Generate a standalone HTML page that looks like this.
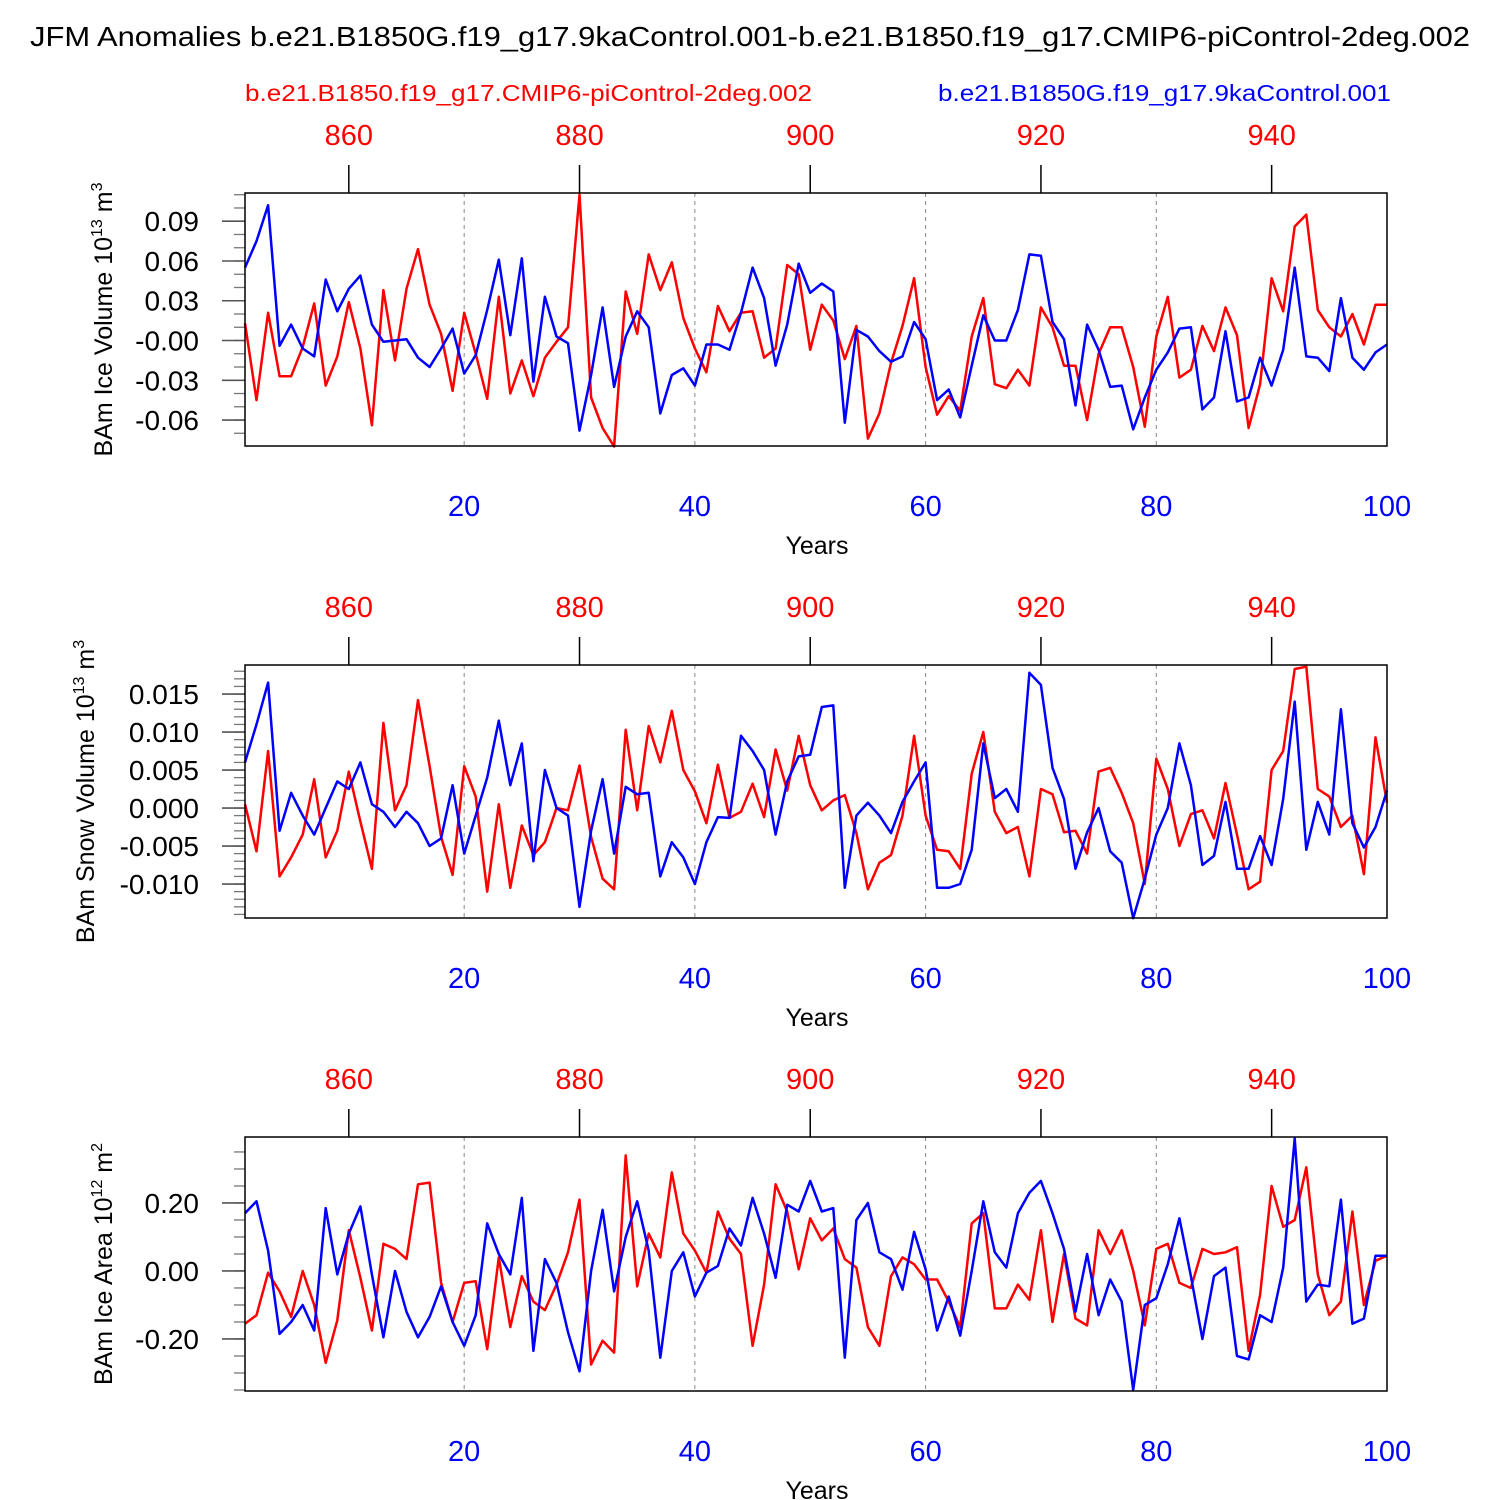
<!DOCTYPE html>
<html><head><meta charset="utf-8"><style>
html,body{margin:0;padding:0;background:#fff;}
svg{display:block;font-family:"Liberation Sans",sans-serif;}
</style></head><body>
<svg id="chart" width="1500" height="1500" viewBox="0 0 1500 1500" xmlns="http://www.w3.org/2000/svg">
<text x="750" y="46" font-size="28" text-anchor="middle" textLength="1440" lengthAdjust="spacingAndGlyphs">JFM Anomalies b.e21.B1850G.f19_g17.9kaControl.001-b.e21.B1850.f19_g17.CMIP6-piControl-2deg.002</text>
<text x="245" y="101" font-size="23" fill="#ff0000" textLength="567" lengthAdjust="spacingAndGlyphs">b.e21.B1850.f19_g17.CMIP6-piControl-2deg.002</text>
<text x="938" y="101" font-size="23" fill="#0000ff" textLength="453" lengthAdjust="spacingAndGlyphs">b.e21.B1850G.f19_g17.9kaControl.001</text>
</svg>
<script>
const volBlue=[0.055,0.075,0.102,-0.004,0.012,-0.006,-0.012,0.046,0.022,0.039,0.049,0.012,-0.001,0.000,0.001,-0.013,-0.020,-0.006,0.009,-0.025,-0.011,0.023,0.061,0.004,0.062,-0.031,0.033,0.003,-0.002,-0.068,-0.026,0.025,-0.035,0.003,0.022,0.010,-0.055,-0.026,-0.021,-0.034,-0.003,-0.003,-0.007,0.021,0.055,0.032,-0.019,0.012,0.058,0.036,0.043,0.037,-0.062,0.008,0.003,-0.008,-0.016,-0.012,0.014,0.001,-0.045,-0.037,-0.058,-0.019,0.019,0.000,0.000,0.023,0.065,0.064,0.014,0.001,-0.049,0.012,-0.007,-0.035,-0.034,-0.067,-0.043,-0.022,-0.009,0.009,0.010,-0.052,-0.043,0.007,-0.046,-0.043,-0.013,-0.034,-0.007,0.055,-0.012,-0.013,-0.023,0.032,-0.013,-0.022,-0.009,-0.003];
const volRed=[0.013,-0.045,0.021,-0.027,-0.027,-0.005,0.028,-0.034,-0.012,0.029,-0.006,-0.064,0.038,-0.015,0.039,0.069,0.027,0.005,-0.038,0.021,-0.010,-0.044,0.033,-0.040,-0.015,-0.042,-0.013,-0.001,0.010,0.110,-0.043,-0.066,-0.080,0.037,0.005,0.065,0.038,0.059,0.017,-0.006,-0.024,0.026,0.007,0.021,0.022,-0.013,-0.006,0.057,0.050,-0.007,0.027,0.015,-0.014,0.011,-0.074,-0.055,-0.017,0.011,0.047,-0.020,-0.056,-0.042,-0.053,0.003,0.032,-0.033,-0.036,-0.022,-0.034,0.025,0.010,-0.019,-0.019,-0.060,-0.010,0.010,0.010,-0.020,-0.065,0.003,0.033,-0.028,-0.022,0.011,-0.008,0.025,0.004,-0.066,-0.033,0.047,0.022,0.086,0.095,0.023,0.010,0.003,0.020,-0.003,0.027,0.027];
const snowBlue=[0.006,0.011,0.0165,-0.003,0.002,-0.001,-0.0035,0.000,0.0035,0.0025,0.006,0.0005,-0.0005,-0.0025,-0.0005,-0.002,-0.005,-0.004,0.003,-0.006,-0.001,0.004,0.0115,0.003,0.0085,-0.007,0.005,0.000,-0.001,-0.013,-0.003,0.0038,-0.006,0.0028,0.0018,0.002,-0.009,-0.0045,-0.0065,-0.010,-0.0045,-0.0012,-0.0013,0.0095,0.0075,0.005,-0.0035,0.0035,0.0068,0.007,0.0133,0.0135,-0.0105,-0.001,0.0007,-0.001,-0.0033,0.0008,0.0035,0.006,-0.0105,-0.0105,-0.010,-0.0055,0.0085,0.0013,0.0025,-0.0005,0.0178,0.0162,0.0053,0.0012,-0.008,-0.0032,0.0,-0.0057,-0.0072,-0.0145,-0.0093,-0.0035,0.0,0.0085,0.003,-0.0075,-0.0063,0.0008,-0.008,-0.008,-0.0037,-0.0075,0.0012,0.014,-0.0055,0.0008,-0.0035,0.013,-0.002,-0.0052,-0.0025,0.0023];
const snowRed=[0.0005,-0.0057,0.0075,-0.009,-0.0065,-0.0035,0.0038,-0.0065,-0.003,0.0048,-0.0018,-0.008,0.0112,-0.0003,0.003,0.0142,0.0055,-0.0038,-0.0088,0.0055,0.0015,-0.011,0.0005,-0.0105,-0.0023,-0.0062,-0.0045,0.0,-0.0003,0.0056,-0.0038,-0.0093,-0.0107,0.0103,-0.0003,0.0108,0.006,0.0128,0.005,0.0022,-0.002,0.0057,-0.0013,-0.0005,0.0032,-0.0012,0.0077,0.0023,0.0095,0.003,-0.0003,0.001,0.0017,-0.0033,-0.0107,-0.0072,-0.0062,-0.001,0.0095,-0.001,-0.0055,-0.0057,-0.008,0.0045,0.010,-0.0005,-0.0033,-0.0025,-0.009,0.0025,0.0018,-0.0032,-0.003,-0.006,0.0048,0.0053,0.002,-0.002,-0.010,0.0065,0.0025,-0.005,-0.0008,-0.0003,-0.004,0.0033,-0.0035,-0.0107,-0.0097,0.005,0.0075,0.0183,0.0186,0.0025,0.0015,-0.0025,-0.001,-0.0087,0.0093,0.0007];
const areaBlue=[0.17,0.205,0.06,-0.185,-0.15,-0.10,-0.175,0.185,-0.01,0.11,0.19,-0.01,-0.195,0.0,-0.12,-0.195,-0.135,-0.045,-0.15,-0.22,-0.13,0.14,0.05,-0.01,0.215,-0.235,0.035,-0.035,-0.18,-0.295,0.0,0.18,-0.06,0.10,0.205,0.06,-0.255,0.0,0.055,-0.075,-0.005,0.015,0.125,0.075,0.215,0.11,-0.02,0.195,0.175,0.265,0.175,0.185,-0.255,0.15,0.20,0.055,0.035,-0.055,0.115,0.005,-0.175,-0.075,-0.19,0.0,0.205,0.055,0.01,0.17,0.23,0.265,0.17,0.065,-0.12,0.05,-0.13,-0.025,-0.09,-0.35,-0.10,-0.08,0.02,0.155,-0.015,-0.20,-0.015,0.01,-0.25,-0.26,-0.13,-0.15,0.01,0.39,-0.09,-0.04,-0.045,0.21,-0.155,-0.14,0.045,0.045];
const areaRed=[-0.155,-0.13,-0.005,-0.06,-0.135,0.0,-0.1,-0.27,-0.145,0.12,-0.02,-0.175,0.08,0.065,0.035,0.255,0.26,-0.035,-0.15,-0.035,-0.03,-0.23,0.04,-0.165,-0.015,-0.09,-0.115,-0.04,0.055,0.21,-0.275,-0.205,-0.24,0.34,-0.045,0.11,0.04,0.29,0.11,0.06,-0.005,0.175,0.095,0.05,-0.22,-0.04,0.255,0.175,0.005,0.155,0.09,0.125,0.035,0.01,-0.165,-0.22,-0.015,0.04,0.02,-0.025,-0.025,-0.09,-0.165,0.14,0.17,-0.11,-0.11,-0.04,-0.085,0.12,-0.15,0.05,-0.14,-0.16,0.12,0.05,0.12,0.0,-0.16,0.065,0.08,-0.035,-0.05,0.065,0.05,0.055,0.07,-0.235,-0.07,0.25,0.13,0.15,0.305,-0.01,-0.13,-0.09,0.175,-0.1,0.03,0.045];
const bottomTicks=[20,40,60,80,100];
const topTicks=[860,880,900,920,940];
const volTicks=[0.09,0.06,0.03,0,-0.03,-0.06];
const volTickLabels=["0.09","0.06","0.03","-0.00","-0.03","-0.06"];
const snowTicks=[0.015,0.010,0.005,0,-0.005,-0.010];
const snowTickLabels=["0.015","0.010","0.005","0.000","-0.005","-0.010"];
const areaTicks=[0.2,0,-0.2];
const areaTickLabels=["0.20","0.00","-0.20"];

const NS="http://www.w3.org/2000/svg";
const svg=document.getElementById('chart');
function mk(tag,attrs,parent){const e=document.createElementNS(NS,tag);for(const k in attrs)e.setAttribute(k,attrs[k]);(parent||svg).appendChild(e);return e;}
const X0=245,X1=1387;
function xs(yr){return X0+(yr-1)*(X1-X0)/99;}

const panels=[
 {name:'ice-volume',top:193,bot:446,vmax:0.1113,vmin:-0.0796,ticks:volTicks,labels:volTickLabels,minor:0.01,blue:volBlue,red:volRed,title:'BAm Ice Volume 10',exp:'13',unit:' m',uexp:'3',tx:112},
 {name:'snow-volume',top:665,bot:918,vmax:0.01882,vmin:-0.01447,ticks:snowTicks,labels:snowTickLabels,minor:0.001,blue:snowBlue,red:snowRed,title:'BAm Snow Volume 10',exp:'13',unit:' m',uexp:'3',tx:94},
 {name:'ice-area',top:1137,bot:1391,vmax:0.394,vmin:-0.353,ticks:areaTicks,labels:areaTickLabels,minor:0.05,blue:areaBlue,red:areaRed,title:'BAm Ice Area 10',exp:'12',unit:' m',uexp:'2',tx:112}
];
panels.forEach(p=>{
  const g=mk('g',{});
  
  
  const ys=v=>p.bot-(v-p.vmin)*(p.bot-p.top)/(p.vmax-p.vmin);
  [20,40,60,80].forEach(t=>{
    const l=mk('line',{x1:xs(t),x2:xs(t),y1:p.top,y2:p.bot,stroke:'#888','stroke-width':1,'stroke-dasharray':'4,4'},g);
    
    
  });
  for(let v=Math.ceil(p.vmin/p.minor)*p.minor;v<=p.vmax;v+=p.minor){
    mk('line',{x1:X0-11,x2:X0,y1:ys(v),y2:ys(v),stroke:'#777','stroke-width':1.3},g);
  }
  p.ticks.forEach((t,i)=>{
    mk('line',{x1:X0-23,x2:X0,y1:ys(t),y2:ys(t),stroke:'#555','stroke-width':1.6},g);
    const tx=mk('text',{x:199,y:ys(t)+10,'font-size':28,'text-anchor':'end'},g);
    tx.textContent=p.labels[i];
    
    
  });
  topTicks.forEach(t=>{
    const x=xs(t-850);
    mk('line',{x1:x,x2:x,y1:p.top-28,y2:p.top,stroke:'#000','stroke-width':1.5},g);
    const tx=mk('text',{x:x,y:p.top-48,'font-size':29,'text-anchor':'middle',fill:'#ff0000'},g);
    tx.textContent=t;
    
    
  });
  bottomTicks.forEach(t=>{
    const tx=mk('text',{x:xs(t),y:p.bot+70,'font-size':29,'text-anchor':'middle',fill:'#0000ff'},g);
    tx.textContent=t;
    
    
  });
  const xt=mk('text',{x:817,y:p.bot+108,'font-size':25,'text-anchor':'middle'},g);
  xt.textContent='Years';
  
  
  const cy=(p.top+p.bot)/2;
  const yt=mk('text',{x:0,y:0,'font-size':25,'text-anchor':'middle',transform:`translate(${p.tx},${cy}) rotate(-90)`},g);
  
  
  yt.appendChild(document.createTextNode(p.title));
  let s=mk('tspan',{dy:-10,'font-size':16},yt);s.textContent=p.exp;
  s=mk('tspan',{dy:10},yt);s.textContent=p.unit;
  s=mk('tspan',{dy:-10,'font-size':16},yt);s.textContent=p.uexp;
  [['red',p.red,'#ff0000'],['blue',p.blue,'#0000ff']].forEach(([n,arr,c])=>{
    const pts=arr.map((v,i)=>xs(i+1).toFixed(1)+','+ys(v).toFixed(1)).join(' ');
    const pl=mk('polyline',{points:pts,fill:'none',stroke:c,'stroke-width':2.5,'stroke-linejoin':'round'},g);
    
    
  });
  const fr=mk('rect',{x:X0,y:p.top,width:X1-X0,height:p.bot-p.top,fill:'none',stroke:'#000','stroke-width':1.5},g);
  
  
});
</script>
</body></html>
